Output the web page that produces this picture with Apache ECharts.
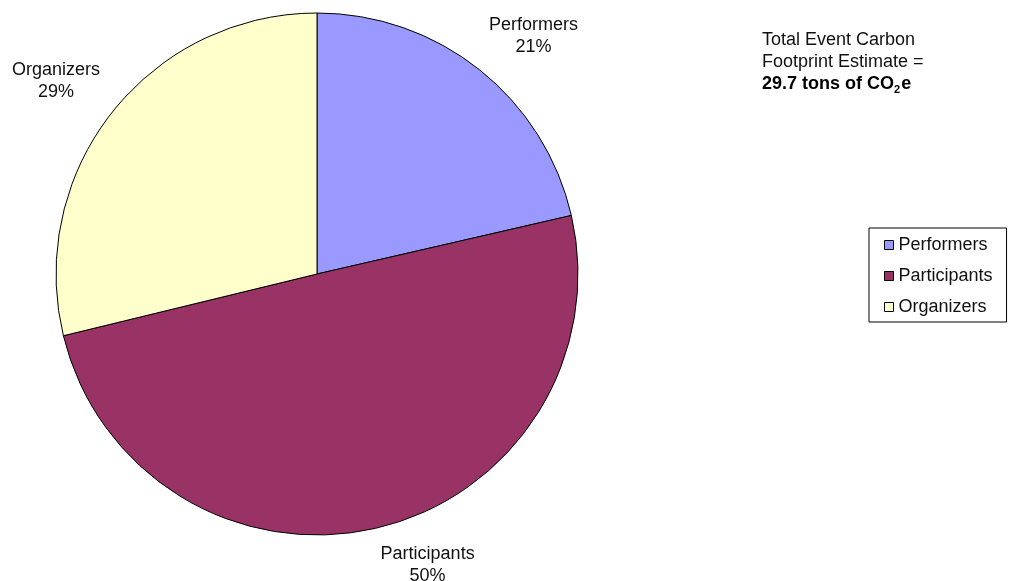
<!DOCTYPE html>
<html>
<head>
<meta charset="utf-8">
<style>
  html, body { margin: 0; padding: 0; background: #fff; }
  #chart { width: 1013px; height: 581px; }
</style>
<script src="https://cdn.jsdelivr.net/npm/echarts@6/dist/echarts.min.js"></script>
</head>
<body>
<div id="chart"></div>
<script>
// slices, clockwise from 12 o'clock
var categories = ["Performers", "Participants", "Organizers"];
var shares = [21.4, 49.8, 28.8];
var colors = ["#9999FF", "#993366", "#FFFFCC"];

var CX = 317, CY = 274, R = 261, GAP = 15;
var FONT = "Liberation Sans";

var chart = echarts.init(document.getElementById("chart"));

var total = shares.reduce(function (a, b) { return a + b; }, 0);

function midAngle(i) {
    // radians, clockwise from top
    var before = 0;
    for (var k = 0; k < i; k++) before += shares[k];
    return (before + shares[i] / 2) / total * Math.PI * 2;
}

var pieData = [];
for (var i = 0; i < categories.length; i++) {
    pieData.push({
        name: categories[i],
        value: shares[i],
        itemStyle: { color: colors[i] }
    });
}

var option = {
    backgroundColor: "#fff",
    animation: false,
    title: {
        left: 762,
        top: 29,
        padding: 0,
        text: "Total Event Carbon\nFootprint Estimate =\n{b|29.7 tons of CO}{s|2}{b|e}",
        textStyle: {
            fontFamily: FONT,
            fontSize: 18,
            fontWeight: "normal",
            color: "#111",
            lineHeight: 22,
            rich: {
                b: { fontFamily: FONT, fontSize: 18, fontWeight: "bold", color: "#000", lineHeight: 22 },
                s: { fontFamily: FONT, fontSize: 11, fontWeight: "bold", color: "#000", verticalAlign: "bottom", lineHeight: 22, padding: [8, 1, 0, 0] }
            }
        }
    },
    legend: {
        orient: "vertical",
        left: 869,
        top: 228,
        data: categories,
        icon: "rect",
        itemWidth: 9,
        itemHeight: 9,
        itemGap: 13,
        padding: [8, 14, 6, 15],
        borderColor: "#000",
        borderWidth: 1,
        itemStyle: { borderColor: "#000", borderWidth: 1 },
        textStyle: {
            fontFamily: FONT,
            fontSize: 18,
            color: "#111",
            lineHeight: 18
        }
    },
    series: [{
        type: "pie",
        center: [CX, CY],
        radius: R,
        startAngle: 90,
        clockwise: true,
        data: pieData,
        itemStyle: { borderColor: "#000", borderWidth: 1 },
        emphasis: { disabled: true },
        labelLine: { show: false },
        label: {
            show: true,
            position: "outside",
            overflow: "none",
            fontFamily: FONT,
            fontSize: 18,
            color: "#111",
            lineHeight: 22,
            align: "center",
            formatter: function (p) {
                return p.name + "\n" + Math.round(p.percent) + "%";
            }
        },
        labelLayout: function (p) {
            // box corner facing the pie sits just outside the rim
            var a = midAngle(p.dataIndex);
            var ux = Math.sin(a), uy = -Math.cos(a);
            var w = p.labelRect.width, h = p.labelRect.height;
            var ax = CX + (R + GAP) * ux, ay = CY + (R + GAP) * uy;
            return {
                x: ax + (ux >= 0 ? 1 : -1) * w / 2,
                y: ay + (uy >= 0 ? 1 : -1) * h / 2,
                align: "center",
                verticalAlign: "middle"
            };
        }
    }]
};

chart.setOption(option);
</script>
</body>
</html>
